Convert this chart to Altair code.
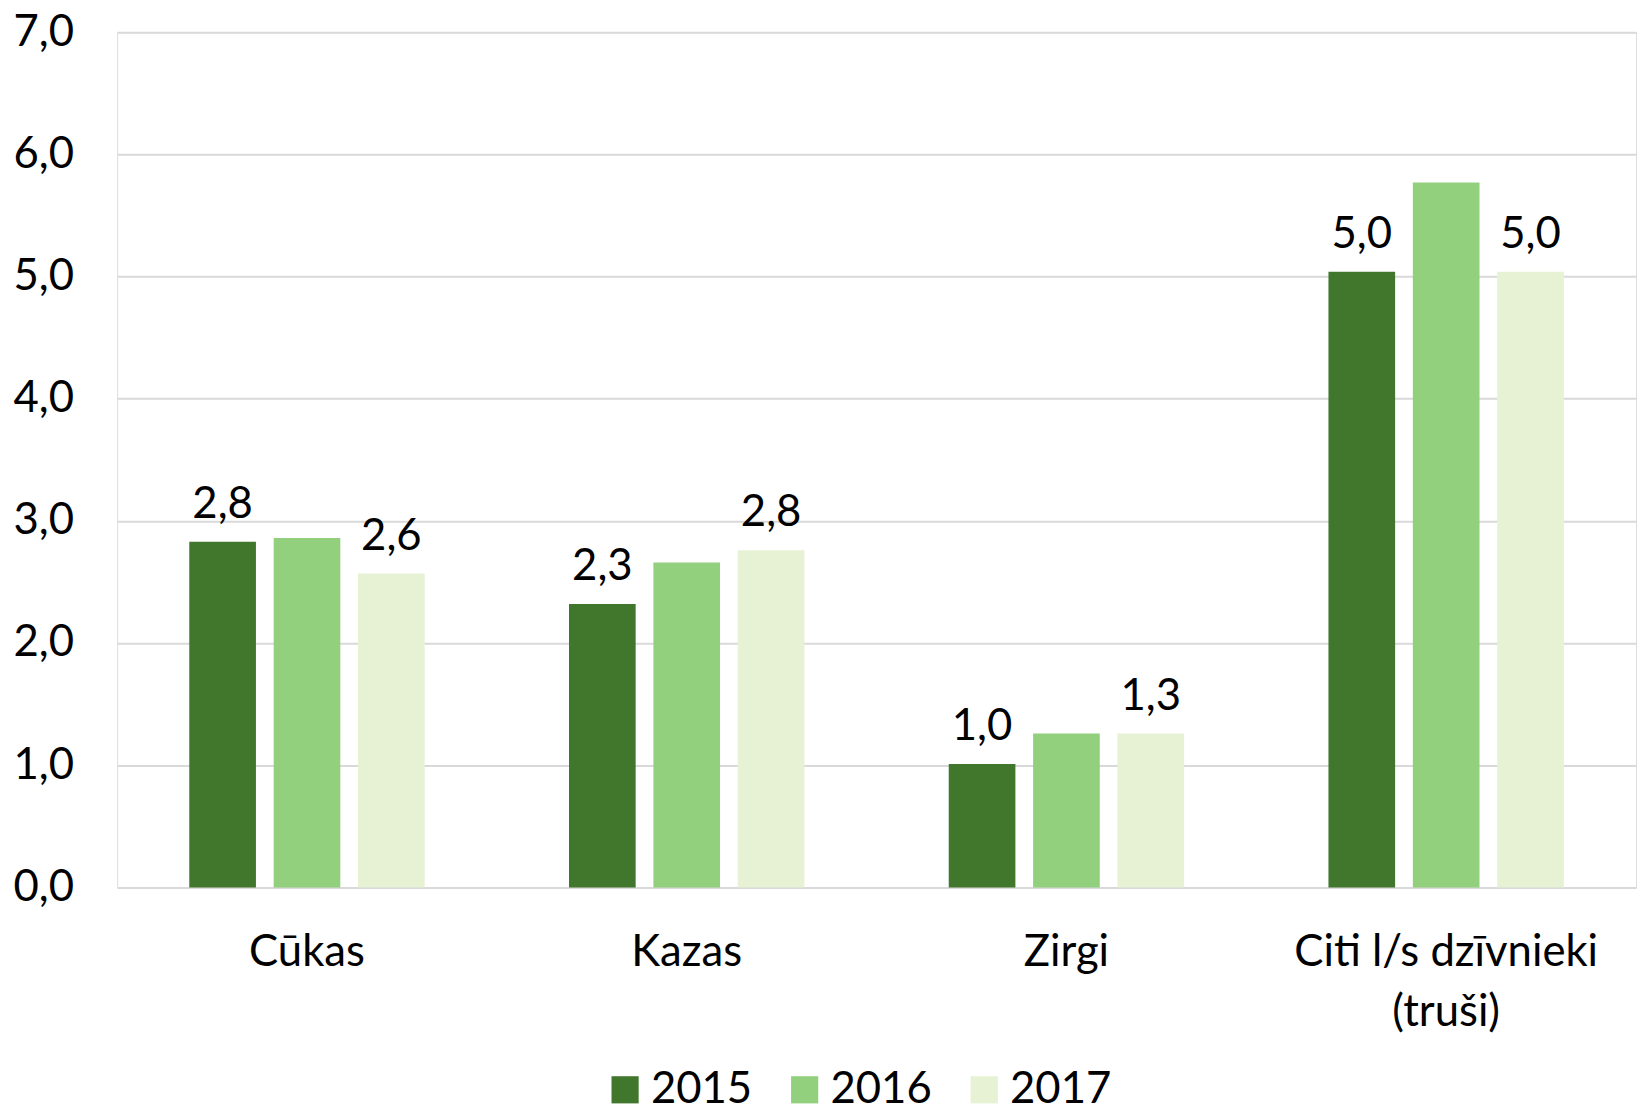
import altair as alt
import pandas as pd

categories = ["Cūkas", "Kazas", "Zirgi", "Citi l/s dzīvnieki (truši)"]
years = ["2015", "2016", "2017"]
v2015 = [2.83, 2.32, 1.01, 5.04]
v2016 = [2.86, 2.66, 1.26, 5.77]
v2017 = [2.57, 2.76, 1.26, 5.04]
colors = ["#41772C", "#92D07E", "#E6F2D3"]

rows = []
for i, c in enumerate(categories):
    for y, vals in zip(years, [v2015, v2016, v2017]):
        rows.append({"cat": c, "year": y, "value": vals[i]})
df = pd.DataFrame(rows)

FONT = "Lato"
FS = 44

base = alt.Chart(df).encode(
    x=alt.X("cat:N", sort=categories, title=None,
            scale=alt.Scale(paddingInner=0.38, paddingOuter=0.19),
            axis=alt.Axis(labelAngle=0, domain=False, ticks=False,
                          labelFont=FONT, labelFontSize=FS, labelColor="#000000",
                          labelPadding=44, labelLineHeight=60, labelLimit=0,
                          labelExpr="indexof(datum.label,' (')>0 ? [slice(datum.label,0,indexof(datum.label,' (')), slice(datum.label,indexof(datum.label,' (')+1)] : datum.label")),
    xOffset=alt.XOffset("year:N", sort=years,
                        scale=alt.Scale(paddingInner=0.21, paddingOuter=0)),
)

bars = base.mark_bar().encode(
    y=alt.Y("value:Q", title=None,
            scale=alt.Scale(domain=[0, 7], nice=False),
            axis=alt.Axis(values=[0, 1, 2, 3, 4, 5, 6, 7], domain=False, ticks=False,
                          grid=True, gridColor="#D9D9D9", gridWidth=2,
                          labelFont=FONT, labelFontSize=FS, labelColor="#000000",
                          labelPadding=44,
                          labelExpr="replace(format(datum.value,'.1f'),'.',',')")),
    color=alt.Color("year:N", sort=years,
                    scale=alt.Scale(domain=years, range=colors),
                    legend=alt.Legend(title=None, orient="none", direction="horizontal",
                                      legendX=490, legendY=1044, padding=0,
                                      symbolType="square", symbolSize=750,
                                      symbolStrokeWidth=0, symbolOpacity=1,
                                      labelFont=FONT, labelFontSize=FS, labelColor="#000000",
                                      labelOffset=4, columnPadding=30)),
)

labels = base.mark_text(font=FONT, fontSize=FS, color="#000000",
                        baseline="alphabetic", dy=-24).encode(
    y=alt.Y("value:Q"),
    text=alt.Text("lbl:N"),
).transform_filter("datum.year != '2016'").transform_calculate(
    lbl="replace(format(datum.value,'.1f'),'.',',')"
)

chart = (bars + labels).properties(
    width=1531, height=862,
    autosize=alt.AutoSizeParams(type="none"),
    padding={"left": 110, "top": 20, "right": 4, "bottom": 228},
).configure_view(stroke=None).configure(background="white")

chart.save("out.html", embed_options={"renderer": "svg", "actions": False})
